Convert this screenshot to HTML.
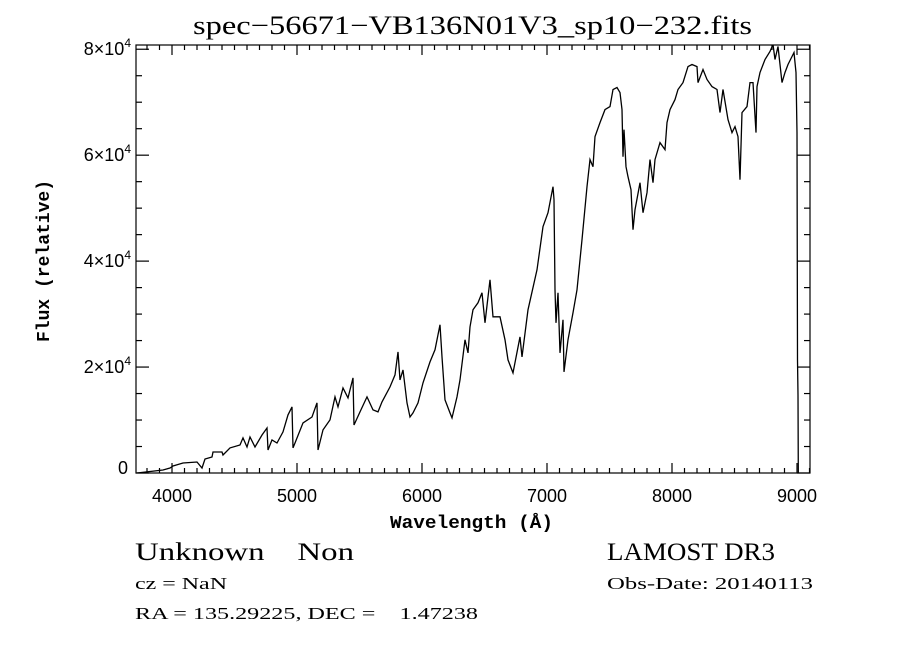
<!DOCTYPE html>
<html><head><meta charset="utf-8"><style>
html,body{margin:0;padding:0;background:#fff;}
svg{display:block;}
</style></head><body>
<svg id="chart" width="900" height="649" xmlns="http://www.w3.org/2000/svg">
<rect width="900" height="649" fill="#fff"/>
<text x="193" y="34" textLength="559" lengthAdjust="spacingAndGlyphs" font-family="Liberation Serif, serif" font-size="26">spec−56671−VB136N01V3_sp10−232.fits</text>
<defs><clipPath id="clip"><rect x="136" y="45" width="674" height="428"/></clipPath></defs>
<g id="axes"></g>
<path id="spec" fill="none" stroke="#000" stroke-width="1.3" clip-path="url(#clip)"/>
<rect x="136" y="45" width="674" height="428" fill="none" stroke="#000" stroke-width="1.2"/>
<text x="390" y="528" textLength="163" lengthAdjust="spacingAndGlyphs" font-family="Liberation Mono, monospace" font-weight="bold" font-size="18">Wavelength (Å)</text>
<text transform="translate(49,261) rotate(-90)" text-anchor="middle" font-family="Liberation Mono, monospace" font-weight="bold" font-size="18">Flux (relative)</text>
<text x="135" y="560" textLength="219" lengthAdjust="spacingAndGlyphs" font-family="Liberation Serif, serif" font-size="25" xml:space="preserve">Unknown    Non</text>
<text x="607" y="560" textLength="168" lengthAdjust="spacingAndGlyphs" font-family="Liberation Serif, serif" font-size="25">LAMOST DR3</text>
<text x="135" y="589" textLength="92" lengthAdjust="spacingAndGlyphs" font-family="Liberation Serif, serif" font-size="17" xml:space="preserve">cz = NaN</text>
<text x="607" y="589" textLength="206" lengthAdjust="spacingAndGlyphs" font-family="Liberation Serif, serif" font-size="17">Obs-Date: 20140113</text>
<text x="135" y="619" textLength="343" lengthAdjust="spacingAndGlyphs" font-family="Liberation Serif, serif" font-size="17" xml:space="preserve">RA = 135.29225, DEC =    1.47238</text>
</svg>
<script>
const wavelength=[3720,3928,3984,4008,4088,4200,4240,4264,4320,4328,4400,4408,4464,4544,4568,4600,4624,4664,4720,4760,4768,4800,4840,4888,4928,4960,4968,4984,5048,5120,5160,5168,5208,5264,5304,5328,5368,5408,5448,5456,5504,5560,5608,5648,5680,5744,5784,5808,5824,5848,5880,5904,5928,5968,6008,6064,6104,6144,6160,6184,6224,6240,6280,6304,6344,6368,6384,6408,6448,6480,6504,6544,6568,6624,6664,6688,6728,6784,6800,6848,6920,6968,7008,7048,7056,7064,7072,7088,7104,7128,7136,7168,7208,7240,7280,7320,7344,7368,7384,7424,7464,7504,7528,7560,7584,7600,7608,7616,7632,7648,7672,7688,7704,7744,7768,7800,7824,7848,7864,7904,7944,7960,7984,8024,8048,8088,8128,8160,8200,8208,8248,8280,8320,8360,8384,8408,8448,8480,8504,8528,8544,8560,8600,8624,8648,8672,8680,8704,8744,8784,8808,8824,8848,8880,8904,8928,8960,8976,8992,9000,9004,9008,9010,9012];
const flux=[0,570,950,1320,1890,2080,950,2650,3020,3970,3970,3400,4730,5290,6620,4910,6800,4910,7180,8500,4350,6240,5670,7750,10960,12470,4730,5670,9450,10580,13230,4350,8130,10020,14360,12470,16070,14180,17960,9070,11530,14360,11910,11530,13420,16250,18520,22870,17580,19470,13230,10580,11340,13230,17010,20980,23250,27970,21920,13800,11340,10400,14360,17580,25140,22680,27590,30810,32130,34020,28350,36480,29480,29480,25140,21360,18900,25700,21920,30810,38370,46490,49140,54050,51600,34590,28350,34020,22680,28920,19090,25140,30240,34590,44040,54050,59160,57830,63500,66150,68610,69170,72390,72770,71820,68610,59720,64830,57830,55940,53490,45930,49710,54810,49140,52920,59160,54810,59160,62370,61050,66150,68610,70500,72390,73710,76730,77110,76730,73710,76170,74280,72950,72390,68040,72390,66720,64260,65390,63500,55380,68040,69170,73710,73710,64260,72950,75600,78060,79570,80890,78060,80510,73710,75600,77110,78620,79380,75600,64260,21360,14740,0,0];
const xTickVals=[4000,5000,6000,7000,8000,9000];
const xTickLabels=["4000","5000","6000","7000","8000","9000"];
const yTickVals=[0,20000,40000,60000,80000];
const yTickLabels=["0","2×10","4×10","6×10","8×10"];

const X0=136,X1=810,Y0=473,Y1=45,WMIN=3712,WMAX=9104,FMIN=0,FMAX=80800;
function xs(w){return X0+(w-WMIN)/(WMAX-WMIN)*(X1-X0);}
function ys(f){return Y0-(f-FMIN)/(FMAX-FMIN)*(Y0-Y1);}
const NS="http://www.w3.org/2000/svg";
const axes=document.getElementById('axes');
function line(x1,y1,x2,y2,name){const l=document.createElementNS(NS,'line');
l.setAttribute('x1',x1);l.setAttribute('y1',y1);l.setAttribute('x2',x2);l.setAttribute('y2',y2);
l.setAttribute('stroke','#000');l.setAttribute('stroke-width','1.2');


axes.appendChild(l);}
for(let w=3800;w<=9100;w+=100){const x=xs(w);const major=w%1000===0;const len=major?10:5;
line(x,Y0,x,Y0-len,major?'x-major-tick':'x-minor-tick');line(x,Y1,x,Y1+len,major?'x-major-tick-top':'x-minor-tick-top');}
for(let f=0;f<=80000;f+=5000){const y=ys(f);const major=f%20000===0;const len=major?13:6;
line(X0,y,X0+len,y,major?'y-major-tick':'y-minor-tick');line(X1,y,X1-len,y,major?'y-major-tick-right':'y-minor-tick-right');}
xTickVals.forEach((v,i)=>{const t=document.createElementNS(NS,'text');
t.setAttribute('x',xs(v));t.setAttribute('y',502);t.setAttribute('text-anchor','middle');
t.setAttribute('font-family','Liberation Sans, sans-serif');t.setAttribute('font-size','18');
t.textContent=xTickLabels[i];


axes.appendChild(t);});
yTickVals.forEach((v,i)=>{const t=document.createElementNS(NS,'text');
const y=ys(v)+ (v===0?0:6);
t.setAttribute('x',v===0?128:131);t.setAttribute('y',v===0?ys(v)+1:y);t.setAttribute('text-anchor','end');
t.setAttribute('font-family','Liberation Sans, sans-serif');t.setAttribute('font-size','18');
t.textContent=yTickLabels[i];
if(v!==0){const s=document.createElementNS(NS,'tspan');s.setAttribute('font-size','12');s.setAttribute('dy','-8');s.textContent='4';t.appendChild(s);}


axes.appendChild(t);});
let d='';wavelength.forEach((w,i)=>{d+=(i?'L':'M')+xs(w).toFixed(1)+' '+ys(flux[i]).toFixed(1);});
document.getElementById('spec').setAttribute('d',d);
</script>
</body></html>
